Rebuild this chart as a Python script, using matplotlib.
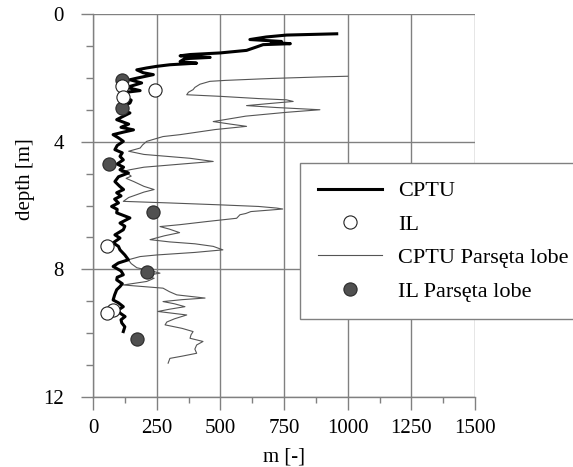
import matplotlib
matplotlib.use("Agg")
import matplotlib.pyplot as plt
from matplotlib.ticker import MultipleLocator

plt.rcParams['font.family'] = ['Liberation Serif', 'DejaVu Serif']

# CPTU (thick line): depth [m], m [-]
cptu_depth = [0.62, 0.66, 0.72, 0.80, 0.86, 0.89, 0.93, 0.96, 1.03, 1.14, 1.22, 1.27, 1.31,
              1.36, 1.40, 1.49, 1.54, 1.59, 1.64, 1.69, 1.75, 1.84, 1.90, 2.01, 2.06, 2.16,
              2.30, 2.40, 2.45, 2.58, 2.70, 2.79, 2.90, 3.00, 3.10, 3.20, 3.31, 3.45, 3.55,
              3.63, 3.70, 3.78, 3.88, 3.99, 4.12, 4.25, 4.35, 4.46, 4.57, 4.70, 4.80, 4.88,
              4.98, 5.10, 5.25, 5.40, 5.50, 5.60, 5.70, 5.80, 5.92, 6.03, 6.12, 6.23, 6.39,
              6.55, 6.65, 6.76, 6.92, 7.02, 7.17, 7.28, 7.39, 7.55, 7.70, 7.80, 7.91, 8.05,
              8.17, 8.25, 8.33, 8.45, 8.54, 8.64, 8.80, 8.96, 9.05, 9.17, 9.27, 9.37, 9.48,
              9.58, 9.68, 9.80, 9.95]
cptu_m = [957, 760, 680, 616, 740, 700, 775, 668, 643, 603, 499, 381, 342,
          460, 360, 342, 407, 302, 250, 211, 172, 197, 237, 172, 145, 191,
          132, 185, 132, 119, 150, 145, 110, 106, 145, 120, 93, 140, 110,
          159, 120, 79, 100, 119, 95, 86, 115, 106, 119, 95, 120, 106,
          139, 100, 86, 105, 120, 93, 110, 85, 100, 73, 95, 93, 145,
          106, 125, 119, 86, 106, 79, 100, 106, 125, 139, 100, 79, 110,
          119, 95, 93, 115, 106, 93, 85, 79, 100, 119, 100, 106, 126,
          110, 113, 125, 119]

# IL (open circles)
il_depth = [2.27, 2.39, 2.60, 7.28, 9.27, 9.37]
il_m = [113, 243, 116, 56, 80, 56]

# CPTU Parsęta lobe (thin line)
lobe_depth = [1.95, 1.97, 2.02, 2.08, 2.11, 2.20, 2.30, 2.37, 2.45, 2.53, 2.58, 2.65, 2.69,
              2.74, 2.80, 2.87, 2.93, 3.00, 3.08, 3.20, 3.37, 3.45, 3.52, 3.62, 3.78, 3.84,
              3.99, 4.10, 4.20, 4.30, 4.40, 4.52, 4.62, 4.70, 4.80, 4.88, 4.95, 5.02, 5.08,
              5.15, 5.25, 5.40, 5.50, 5.58, 5.66, 5.75, 5.87, 5.92, 5.98, 6.03, 6.08, 6.11,
              6.14, 6.19, 6.25, 6.29, 6.40, 6.50, 6.60, 6.66, 6.74, 6.85, 6.95, 7.07, 7.14,
              7.20, 7.28, 7.39, 7.47, 7.55, 7.60, 7.70, 7.82, 7.95, 8.05, 8.12, 8.20, 8.28,
              8.38, 8.49, 8.59, 8.70, 8.80, 8.90, 8.95, 9.01, 9.08, 9.17, 9.25, 9.32, 9.43,
              9.55, 9.65, 9.74, 9.85, 9.95, 10.05, 10.16, 10.26, 10.37, 10.50, 10.63, 10.72,
              10.79, 10.94]
lobe_m = [1000, 900, 700, 520, 459, 420, 400, 393, 375, 368, 500, 650, 760,
          786, 700, 603, 720, 891, 760, 600, 472, 540, 603, 480, 342, 275,
          211, 195, 185, 140, 200, 380, 472, 350, 200, 145, 110, 140, 150,
          130, 160, 200, 240, 200, 172, 140, 119, 300, 500, 650, 721, 745,
          700, 620, 600, 577, 564, 450, 342, 263, 300, 340, 280, 224, 300,
          400, 472, 510, 400, 250, 185, 139, 150, 172, 230, 263, 200, 240,
          211, 119, 275, 300, 329, 440, 350, 275, 320, 361, 300, 255, 368,
          320, 290, 283, 350, 393, 385, 381, 432, 407, 400, 407, 350,
          302, 295]

# IL Parsęta lobe (filled circles)
il_lobe_depth = [2.06, 2.95, 4.69, 6.19, 8.09, 10.19]
il_lobe_m = [113, 113, 64, 234, 211, 172]

x_ticks = [0, 250, 500, 750, 1000, 1250, 1500]
y_ticks = [0, 4, 8, 12]

W, H = 573, 467
fig = plt.figure(figsize=(W / 100, H / 100), dpi=100)
ax = fig.add_axes([93 / W, 1 - 397 / H, (475 - 93) / W, (397 - 14) / H])

grey = '#808080'
ax.plot(lobe_m, lobe_depth, color='#555555', lw=0.8, label='CPTU Parsęta lobe', zorder=3)
ax.plot(cptu_m, cptu_depth, color='black', lw=2.2, label='CPTU', zorder=4)
ax.plot(il_lobe_m, il_lobe_depth, 'o', ms=9.5, mfc='#505050', mec='#2a2a2a', mew=0.8,
        label='IL Parsęta lobe', zorder=5)
ax.plot(il_m, il_depth, 'o', ms=9.5, mfc='white', mec='#222222', mew=0.8,
        label='IL', zorder=6)

ax.set_xlim(0, 1500)
ax.set_ylim(12, 0)
ax.set_xticks(x_ticks)
ax.set_yticks(y_ticks)
ax.xaxis.set_minor_locator(MultipleLocator(125))
ax.yaxis.set_minor_locator(MultipleLocator(1))
ax.grid(True, which='major', color=grey, lw=1.0, zorder=1)
ax.set_axisbelow(True)

for s in ['top', 'right']:
    ax.spines[s].set_visible(False)
for s in ['left', 'bottom']:
    ax.spines[s].set_color(grey)
    ax.spines[s].set_linewidth(1.0)

ax.tick_params(axis='both', which='major', direction='out', length=9, width=1.0,
               color=grey, labelsize=15, pad=7)
ax.tick_params(axis='x', which='minor', direction='out', length=4, width=1.0, color=grey)
ax.tick_params(axis='y', which='minor', direction='out', length=5, width=1.0, color=grey)
ax.tick_params(axis='y', which='major', pad=12)

ax.set_xlabel('m [-]', fontsize=15, labelpad=7)
ax.set_ylabel('depth [m]', fontsize=15)
ax.yaxis.set_label_coords(-0.152, 0.569)

h, l = ax.get_legend_handles_labels()
order = ['CPTU', 'IL', 'CPTU Parsęta lobe', 'IL Parsęta lobe']
hd = dict(zip(l, h))
leg = fig.legend([hd[k] for k in order], order, loc='upper left',
                 bbox_to_anchor=(300 / W, 1 - 163 / H), bbox_transform=fig.transFigure,
                 borderaxespad=0,
                 fontsize=16, frameon=True, fancybox=False, framealpha=1,
                 edgecolor=grey, handlelength=2.9, handletextpad=0.7,
                 labelspacing=0.58, borderpad=0.8)
leg.get_frame().set_linewidth(1.0)

fig.savefig('out.png', dpi=100)
